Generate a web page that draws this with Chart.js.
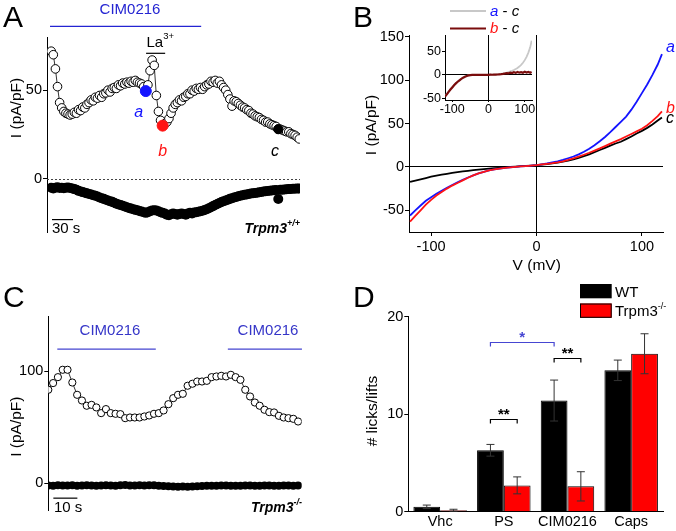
<!DOCTYPE html>
<html><head><meta charset="utf-8"><title>Trpm3 CIM0216 figure</title>
<script src="https://cdn.jsdelivr.net/npm/chart.js@4.4.1/dist/chart.umd.min.js"></script>
<style>
html,body{margin:0;padding:0;background:#fff;}
#wrap{position:relative;width:676px;height:531px;overflow:hidden;background:#fff;}
#wrap canvas{position:absolute;left:0;top:0;width:676px;height:531px;}
</style></head><body>
<div id="wrap">
<canvas id="cA" width="676" height="531"></canvas>
<canvas id="cB" width="676" height="531"></canvas>
<canvas id="cBi" width="676" height="531"></canvas>
<canvas id="cC" width="676" height="531"></canvas>
<canvas id="cD" width="676" height="531"></canvas>
</div>
<script>
// ================= DATA =================
// Panel A: current density time course (Trpm3+/+), sampled every 3 s
const timeStartA = 6;
const timeStepA = 3;
const outwardA = [72, 70, 62, 52, 43, 40, 38, 37, 36.5, 36,
  36.5, 37.5, 37, 39, 38.5, 40.5, 40, 42, 43, 44.5,
  44, 46, 45.5, 47, 46, 48, 48.5, 50, 49, 51,
  51.5, 51, 53, 52.5, 54, 53.5, 54.5, 54, 55, 54.5,
  55.5, 54.5, 54, 53.5, 52, 49.5, 53, 61, 67, 64,
  47, 38, 33, 30, 31, 32, 34, 37, 40, 42,
  43, 44.5, 44, 46, 46.5, 48, 48, 50, 49.5, 51,
  50.5, 51.5, 50.5, 52, 53, 53.5, 55, 54.5, 55.5, 54,
  55, 53, 51.5, 50, 47.5, 45, 41, 44, 43.5,
  42.5, 41.5, 40.5, 40, 39, 38.5, 37, 36.5, 35.5, 35,
  34.5, 33.5, 33, 32, 32, 31, 30.5, 30, 29.5, 28,
  28, 27.5, 27, 26.5, 26.5, 25.5, 25, 24.5, 23.5, 22.5];
const inwardA = [-5, -5.5, -5, -4.8, -5.2, -5, -5.3, -5, -4.9, -5.2, -5.4, -5.8, -6.2,
  -6.8, -7.2, -7.5, -7.8, -8.2, -8.5, -8.8, -9.2,
  -9.6, -10, -10.5, -11, -11.3, -11.8, -12.2, -12.6, -13, -13.5,
  -14, -14.5, -14.8, -15.2, -15.6, -16, -16.4, -16.8, -17.2, -17.5,
  -17.8, -18.2, -18.5, -18.8, -19.2, -18.8, -18.3, -17.9, -17.7, -17.9,
  -18.3, -18.8, -19.2, -19.5, -20.2, -20.5, -20, -19.6, -19.8, -20.3,
  -19.8, -19.5, -19.8, -20.3, -19.6, -19.2, -19.5, -19, -18.8, -18.6,
  -18.3, -18, -17.6, -17.2, -16.6, -16, -15.4, -14.8, -14.2, -13.6,
  -13.1, -12.6, -12.2, -11.8, -11.3, -10.9, -10.5, -10.2, -9.8, -9.5,
  -9.3, -9, -8.8, -8.5, -8.3, -8.1, -8, -7.8, -7.6, -7.4,
  -7.2, -7, -6.9, -6.7, -6.6, -6.4, -6.3, -11.4, -6.2, -6.1,
  -6, -5.9, -5.8, -5.7, -5.6, -5.6, -5.5, -5.4];
const markIndexA = [45, 53, 108];          // points a, b, c
const markColorsA = ['#1414ff', '#ff1414', '#000000'];
const yTicksA = [0, 50];

// Panel B: I-V relations
const ivVoltage = [-120,-115,-110,-105,-100,-95,-90,-85,-80,-75,-70,-65,-60,-55,-50,-45,-40,-35,-30,-25,-20,-15,-10,-5,0,
  5,10,15,20,25,30,35,40,45,50,55,60,65,70,75,80,85,90,95,100,105,110,115,119];
const ivTraceA = [-56,-50,-44.5,-39,-35,-31,-27.5,-24,-20.8,-17.8,-15,-12.2,-9.7,-7.5,-5.6,-4,-2.8,-1.9,-1.1,-0.5,0,0.5,1,1.5,2,
  3,4,5.2,6.5,8,10,12,14.5,17.5,21,25,29.5,34.5,40,46,52,58,66,75,85,95,106,118,130];
const ivTraceB = [-63,-56.5,-50,-43.5,-38,-33,-29,-25,-21.5,-18.5,-15.5,-12.5,-9.8,-7.5,-5.6,-4,-2.8,-1.9,-1.1,-0.5,0,0.5,1,1.5,2,
  2.8,3.5,4.3,5.3,6.5,8,9.8,11.8,14,16.3,18.8,21.3,24,26.8,29.5,32,35,38,41,44,48,53,58.5,64];
const ivTraceC = [-17.3,-15.8,-14.3,-12.8,-11.3,-10,-8.9,-7.9,-6.9,-6,-5.2,-4.5,-3.8,-3.1,-2.5,-2,-1.5,-1,-0.5,0,0.4,0.8,1.2,1.6,2,
  2.7,3.3,4,5,6,7.3,8.8,10.5,12.5,14.5,17,19.5,22,24.5,27,29,32,35,38.5,41.5,45,49,53.5,57];
const yTicksB = [-50, 0, 50, 100, 150];
const xTicksB = [-100, 0, 100];
// Inset: difference currents
const insetAminusC = [-44,-40,-35,-30,-26,-21.5,-17.5,-14,-11,-8,-5.5,-3.5,-2,-1,-0.4,0,0,0,0,0,0,0,0,0,0,
  0.2,0.3,0.5,0.8,1.2,1.7,2.3,3,3.8,4.8,6,7.2,8.6,10.2,12.2,14.5,17.5,21,25.5,31,38,47,58,72];
const insetBminusC = [-46,-41,-36,-31,-26.5,-22,-18,-14.5,-11.5,-8.5,-6,-4,-2.3,-1.2,-0.5,-0.1,0,0.2,0,0.1,0,0.2,0,0.1,0,
  0.3,0.2,0.5,0.6,0.8,1.2,1.5,2,2.8,3.5,3,4.8,3.8,5.5,4.2,6.2,4.6,5.8,4.3,6.4,4.8,6,4.5,6];
const yTicksInset = [-50, 0, 50];
const xTicksInset = [-100, 0, 100];

// Panel C: time course (Trpm3-/-), sampled every 2 s
const timeStepC = 2;
const outwardC = [83.6, 89.6, 94.9, 101.5, 101.5, 90.1, 79.1, 74.0, 69.3, 70.1,
  67.8, 62.7, 66.3, 62.7, 62.1, 61.8, 58.2, 58.8, 58.8, 58.8,
  59.7, 60.6, 62.1, 62.7, 65.1, 70.7, 76.1, 79.1, 80.0, 87.2,
  89.0, 91.0, 91.0, 91.6, 94.9, 95.5, 96.1, 95.5, 97.0, 94.9,
  92.5, 83.6, 77.6, 72.2, 69.3, 65.7, 63.6, 63.3, 60.3, 58.8,
  58.2, 57.6, 55.2];
const inwardC = [-2, -2.2, -1.8, -2, -2.1, -1.9, -2.2, -2, -1.8, -2.1,
  -2.3, -2, -1.9, -2.1, -2.2, -1.8, -1.7, -2, -2.1, -1.9,
  -2, -1.8, -1.9, -2.2, -2.5, -2.7, -3, -3.1, -2.9, -3.2,
  -3, -2.7, -2.5, -2.4, -2.2, -2.3, -2.1, -2, -2.2, -2.4,
  -2.2, -2, -2.1, -2.3, -2.2, -2, -2.1, -2.3, -2.2, -2,
  -2.1, -2.2, -2];
const yTicksC = [0, 100];

// Panel D: nocifensive behaviour
const categoriesD = ['Vhc', 'PS', 'CIM0216', 'Caps'];
const wtMean = [0.5, 6.3, 11.4, 14.5];
const wtSem = [0.18, 0.6, 2.1, 1.05];
const koMean = [0.15, 2.7, 2.6, 16.2];
const koSem = [0.1, 0.87, 1.5, 2.05];
const yTicksD = [0, 10, 20];
const sigBrackets = [
  {from: [0, 1], to: [1, 1], y: 9.5, text: '**', color: '#000'},
  {from: [0, 1], to: [0, 2], y: 17.44, text: '*', color: '#4646d2'},
  {from: [0, 2], to: [1, 2], y: 15.73, text: '**', color: '#000'}
];

// ================= HELPERS =================
const FF = '"Liberation Sans", Arial, Helvetica, sans-serif';
Chart.defaults.font.family = FF;
Chart.defaults.color = '#000';
function fnt(size, style) { return (style ? style + ' ' : '') + size + 'px ' + FF; }
function runs(ctx, x, y, parts, align) {
  ctx.save(); ctx.textBaseline = 'alphabetic'; ctx.textAlign = 'left';
  let total = 0;
  for (const p of parts) { ctx.font = p[1]; total += ctx.measureText(p[0]).width; }
  let cx = align === 'center' ? x - total / 2 : (align === 'right' ? x - total : x);
  for (const p of parts) {
    ctx.font = p[1]; ctx.fillStyle = p[2] || '#000';
    ctx.fillText(p[0], cx, y + (p[3] || 0));
    cx += ctx.measureText(p[0]).width;
  }
  ctx.restore();
}
function seg(ctx, pts, color, w, dash) {
  ctx.save(); ctx.strokeStyle = color; ctx.lineWidth = w;
  if (dash) ctx.setLineDash(dash);
  ctx.beginPath();
  pts.forEach((p, i) => i ? ctx.lineTo(p[0], p[1]) : ctx.moveTo(p[0], p[1]));
  ctx.stroke(); ctx.restore();
}
function vText(ctx, s, cx, cy, font) {
  ctx.save(); ctx.translate(cx, cy); ctx.rotate(-Math.PI / 2);
  ctx.font = font; ctx.fillStyle = '#000'; ctx.textAlign = 'center'; ctx.textBaseline = 'middle';
  ctx.fillText(s, 0, 0); ctx.restore();
}
function yAxis(o) {
  return {
    type: 'linear', position: 'left', min: o.min, max: o.max,
    afterFit(s) { s.width = o.width; },
    afterBuildTicks(s) { s.ticks = o.ticks.map(v => ({value: v})); },
    border: {display: true, color: '#000', width: 1},
    grid: {display: true, drawOnChartArea: !!o.zero, tickLength: o.tickLength || 4, tickColor: '#000', lineWidth: 1,
      color: c => (o.zero && c.tick && c.tick.value === 0) ? '#000' : 'rgba(0,0,0,0)'},
    ticks: {font: {size: o.size || 14.5}, padding: o.pad != null ? o.pad : 1, color: '#000'}
  };
}
function xLinear(o) {
  return {
    type: 'linear', position: 'bottom', min: o.min, max: o.max,
    afterFit(s) { s.height = o.height; },
    afterBuildTicks(s) { s.ticks = o.ticks.map(v => ({value: v})); },
    border: {display: true, color: '#000', width: 1},
    grid: {display: true, drawOnChartArea: true, tickLength: o.tickLength || 4, tickColor: '#000', lineWidth: 1,
      color: c => (c.tick && c.tick.value === 0) ? '#000' : 'rgba(0,0,0,0)'},
    ticks: {font: {size: o.size || 14.5}, padding: o.pad != null ? o.pad : 2, color: '#000', maxRotation: 0}
  };
}
const baseOpts = {responsive: false, animation: false, devicePixelRatio: 1, events: [],
  plugins: {legend: {display: false}, tooltip: {enabled: false}}};
function opts(extra) { return Object.assign({}, baseOpts, extra); }

// ================= PANEL A =================
const timesA = outwardA.map((_, i) => timeStartA + i * timeStepA);
const annA = {
  id: 'annA',
  beforeDatasetsDraw(chart) {
    const {ctx, scales: {x, y}} = chart;
    const y0 = Math.round(y.getPixelForValue(0)) + 0.5;
    seg(ctx, [[x.left, y0], [x.right, y0]], '#444', 1, [2, 2]);
  },
  afterDraw(chart) {
    const {ctx, scales: {x, y}} = chart;
    const X = v => x.getPixelForValue(v), Y = v => y.getPixelForValue(v);
    runs(ctx, 3, 27, [['A', fnt(30)]]);
    seg(ctx, [[X(4.3), Y(86)], [X(220), Y(86)]], '#2424d2', 1.3);
    runs(ctx, 130, 13.5, [['CIM0216', fnt(15), '#2424d2']], 'center');
    seg(ctx, [[X(141.4), Y(70.8)], [X(168.6), Y(70.8)]], '#000', 1.2);
    runs(ctx, 146.5, 46.5, [['La', fnt(15)], ['3+', fnt(9.5), '#000', -8]]);
    runs(ctx, 138.7, 116.5, [['a', fnt(16, 'italic'), '#1414ff']], 'center');
    runs(ctx, 162.7, 156, [['b', fnt(16, 'italic'), '#ff1414']], 'center');
    runs(ctx, 275, 156, [['c', fnt(16, 'italic'), '#000']], 'center');
    seg(ctx, [[X(7.1), Y(-23)], [X(37.1), Y(-23)]], '#000', 1.2);
    runs(ctx, 52, 233, [['30 s', fnt(15)]]);
    runs(ctx, 300, 233, [['Trpm3', fnt(14, 'italic bold')], ['+/+', fnt(9, 'italic bold'), '#000', -7]], 'right');
    vText(ctx, 'I (pA/pF)', 16.7, 108, fnt(15.5));
  }
};
new Chart(document.getElementById('cA'), {
  type: 'scatter',
  data: {datasets: [
    {label: 'marks', data: markIndexA.map(i => ({x: timesA[i], y: outwardA[i]})), showLine: false,
      pointRadius: [5.5, 5.5, 4.6], pointBackgroundColor: markColorsA, pointBorderColor: markColorsA, pointBorderWidth: 1},
    {label: 'outward', data: timesA.map((t, i) => ({x: t, y: outwardA[i]})), showLine: true,
      borderColor: '#000', borderWidth: 0.8, pointRadius: 4.3, pointBackgroundColor: '#fff', pointBorderColor: '#000', pointBorderWidth: 1},
    {label: 'inward', data: timesA.map((t, i) => ({x: t, y: inwardA[i]})), showLine: false,
      pointRadius: 5, pointBackgroundColor: '#000', pointBorderColor: '#000', pointBorderWidth: 0}
  ]},
  options: opts({
    layout: {padding: {left: 0, top: 37, right: 376, bottom: 299}},
    scales: {x: {type: 'linear', display: false, min: 0, max: 361},
      y: yAxis({min: -30, max: 80, width: 47, ticks: yTicksA})}
  }),
  plugins: [annA]
});

// ================= PANEL B =================
const annB = {
  id: 'annB',
  afterDraw(chart) {
    const {ctx} = chart;
    runs(ctx, 353, 27, [['B', fnt(30)]]);
    vText(ctx, 'I (pA/pF)', 371.7, 125, fnt(15.5));
    runs(ctx, 536.7, 269.5, [['V (mV)', fnt(15.5)]], 'center');
    runs(ctx, 666, 52, [['a', fnt(16, 'italic'), '#1414ff']]);
    runs(ctx, 666, 113, [['b', fnt(16, 'italic'), '#ff1414']]);
    runs(ctx, 666, 123, [['c', fnt(16, 'italic'), '#000']]);
    // inset legend
    seg(ctx, [[450, 11], [486, 11]], '#c8c8c8', 2);
    runs(ctx, 490, 16, [['a', fnt(15, 'italic'), '#1414ff'], [' - ', fnt(15)], ['c', fnt(15, 'italic')]]);
    seg(ctx, [[450, 28.5], [486, 28.5]], '#7a0c0c', 2);
    runs(ctx, 490, 33, [['b', fnt(15, 'italic'), '#ff1414'], [' - ', fnt(15)], ['c', fnt(15, 'italic')]]);
  }
};
new Chart(document.getElementById('cB'), {
  type: 'scatter',
  data: {datasets: [
    {label: 'b', data: ivVoltage.map((v, i) => ({x: v, y: ivTraceB[i]})), showLine: true, borderColor: '#ff1414', borderWidth: 1.8, pointRadius: 0},
    {label: 'a', data: ivVoltage.map((v, i) => ({x: v, y: ivTraceA[i]})), showLine: true, borderColor: '#1414ff', borderWidth: 1.8, pointRadius: 0},
    {label: 'c', data: ivVoltage.map((v, i) => ({x: v, y: ivTraceC[i]})), showLine: true, borderColor: '#000', borderWidth: 1.8, pointRadius: 0}
  ]},
  options: opts({
    layout: {padding: {left: 340, top: 35, right: 13, bottom: 258}},
    scales: {x: xLinear({min: -121, max: 120, height: 41, ticks: xTicksB}),
      y: yAxis({min: -75, max: 152, width: 69, ticks: yTicksB, zero: true})}
  }),
  plugins: [annB]
});
// inset
new Chart(document.getElementById('cBi'), {
  type: 'scatter',
  data: {datasets: [
    {label: 'b-c', data: ivVoltage.map((v, i) => ({x: v, y: insetBminusC[i]})), showLine: true, borderColor: '#7a0c0c', borderWidth: 2.2, pointRadius: 0},
    {label: 'a-c', data: ivVoltage.map((v, i) => ({x: v, y: insetAminusC[i]})), showLine: true, borderColor: '#c8c8c8', borderWidth: 1.8, pointRadius: 0}
  ]},
  options: opts({
    layout: {padding: {left: 400, top: 35, right: 144, bottom: 415}},
    scales: {x: xLinear({min: -120, max: 120, height: 16, ticks: xTicksInset, size: 12.5, tickLength: 2, pad: 0}),
      y: yAxis({min: -53, max: 84, width: 45, ticks: yTicksInset, zero: true, size: 12.5, tickLength: 3})}
  })
});

// ================= PANEL C =================
const timesC = outwardC.map((_, i) => i * timeStepC);
const annC = {
  id: 'annC',
  afterDraw(chart) {
    const {ctx, scales: {x, y}} = chart;
    const X = v => x.getPixelForValue(v), Y = v => y.getPixelForValue(v);
    runs(ctx, 3, 306.7, [['C', fnt(30)]]);
    seg(ctx, [[X(3.75), Y(120)], [X(44.75), Y(120)]], '#4444d0', 1.3);
    seg(ctx, [[X(74.75), Y(120)], [X(105.6), Y(120)]], '#4444d0', 1.3);
    runs(ctx, 110, 334.5, [['CIM0216', fnt(15), '#3535c8']], 'center');
    runs(ctx, 268, 334.5, [['CIM0216', fnt(15), '#3535c8']], 'center');
    seg(ctx, [[X(2.1), Y(-13.4)], [X(12.1), Y(-13.4)]], '#000', 1.2);
    runs(ctx, 54, 511.7, [['10 s', fnt(15)]]);
    runs(ctx, 302, 511.5, [['Trpm3', fnt(14, 'italic bold')], ['-/-', fnt(9, 'italic bold'), '#000', -7]], 'right');
    vText(ctx, 'I (pA/pF)', 16.7, 426.7, fnt(15.5));
  }
};
new Chart(document.getElementById('cC'), {
  type: 'scatter',
  data: {datasets: [
    {label: 'outward', data: timesC.map((t, i) => ({x: t, y: outwardC[i]})), showLine: true,
      borderColor: '#000', borderWidth: 0.8, pointRadius: 3.6, pointBackgroundColor: '#fff', pointBorderColor: '#000', pointBorderWidth: 1},
    {label: 'inward', data: timesC.map((t, i) => ({x: t, y: inwardC[i]})), showLine: false,
      pointRadius: 4, pointBackgroundColor: '#000', pointBorderColor: '#000', pointBorderWidth: 0}
  ]},
  options: opts({
    layout: {padding: {left: 0, top: 316.7, right: 374.3, bottom: 21}},
    scales: {x: {type: 'linear', display: false, min: 0, max: 105.5},
      y: yAxis({min: -24, max: 149, width: 48.3, ticks: yTicksC})}
  }),
  plugins: [annC]
});

// ================= PANEL D =================
const annD = {
  id: 'annD',
  afterDatasetsDraw(chart) {
    const {ctx, scales: {y}} = chart;
    const metas = [chart.getDatasetMeta(0).data, chart.getDatasetMeta(1).data];
    [[metas[0], wtMean, wtSem], [metas[1], koMean, koSem]].forEach(([m, mean, sem]) => {
      m.forEach((b, i) => {
        const x = b.x, yt = y.getPixelForValue(mean[i] + sem[i]), yb = y.getPixelForValue(mean[i] - sem[i]);
        seg(ctx, [[x, yt], [x, yb]], '#333', 1);
        seg(ctx, [[x - 4, yt], [x + 4, yt]], '#333', 1);
        seg(ctx, [[x - 4, yb], [x + 4, yb]], '#333', 1);
      });
    });
    sigBrackets.forEach(s => {
      const xa = metas[s.from[0]][s.from[1]].x, xb = metas[s.to[0]][s.to[1]].x;
      const yy = Math.round(y.getPixelForValue(s.y)) + 0.5;
      seg(ctx, [[xa, yy + 4], [xa, yy], [xb, yy], [xb, yy + 4]], s.color, 1.2);
      runs(ctx, (xa + xb) / 2, yy - 0.5, [[s.text, fnt(15, 'bold'), s.color]], 'center');
    });
  },
  afterDraw(chart) {
    const {ctx} = chart;
    runs(ctx, 353, 306.7, [['D', fnt(30)]]);
    vText(ctx, '# licks/lifts', 373, 411, fnt(15.5));
    ctx.save();
    ctx.fillStyle = '#000'; ctx.fillRect(580, 284, 31.7, 14.3);
    ctx.fillStyle = '#ff0000'; ctx.fillRect(580, 303.5, 31.7, 14.3);
    ctx.strokeStyle = '#000'; ctx.lineWidth = 1; ctx.strokeRect(580.5, 304, 30.7, 13.3);
    ctx.restore();
    runs(ctx, 615, 296.5, [['WT', fnt(15)]]);
    runs(ctx, 615, 316, [['Trpm3', fnt(15)], ['-/-', fnt(9), '#000', -7]]);
  }
};
new Chart(document.getElementById('cD'), {
  type: 'bar',
  data: {labels: categoriesD, datasets: [
    {label: 'WT', data: wtMean, backgroundColor: '#000', borderColor: '#000', borderWidth: 1},
    {label: 'Trpm3-/-', data: koMean, backgroundColor: '#ff0000', borderColor: '#000', borderWidth: 1}
  ]},
  options: opts({
    layout: {padding: {left: 340, top: 316.7, right: 13, bottom: 0.3}},
    datasets: {bar: {barPercentage: 1, categoryPercentage: 0.84}},
    scales: {
      x: {type: 'category', offset: true, afterFit(s) { s.height = 19; },
        border: {display: true, color: '#000', width: 1}, grid: {display: false, drawTicks: false, tickLength: 0},
        ticks: {font: {size: 14.5}, padding: 2, color: '#000', maxRotation: 0}},
      y: yAxis({min: 0, max: 20, width: 68.3, ticks: yTicksD})
    }
  }),
  plugins: [annD]
});
</script>
</body></html>
